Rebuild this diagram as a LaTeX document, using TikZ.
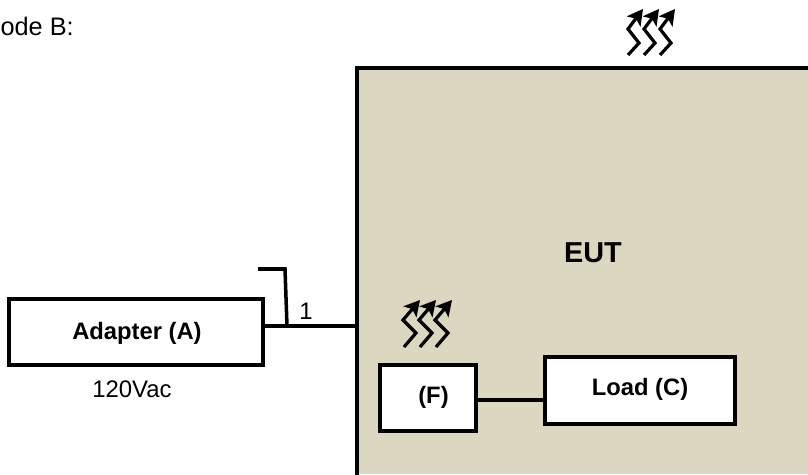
\documentclass[tikz,border=0pt]{standalone}
\usepackage{fontspec}
\setmainfont{Liberation Sans}
\usepackage{tikz}
\usetikzlibrary{arrows.meta}

\tikzset{
    whitebox/.style={rectangle, draw, fill=white, line width=2.5pt, inner sep=0pt},
    plaintext/.style={inner sep=0pt, font=\fontsize{17}{20}\selectfont},
    boldtext/.style={inner sep=0pt, font=\fontsize{16.9}{20}\selectfont\bfseries},
    wire/.style={line width=2.5pt},
    heat/.style={line width=2.3pt, miter limit=10, -{Stealth[length=11pt, width=12pt, inset=2.5pt]}}
}

\begin{document}
\begin{tikzpicture}[x=0.025cm, y=-0.025cm]
        \useasboundingbox (0, 0) rectangle (808, 474);

        % Nodes
        \node[rectangle, fill={rgb,255:red,220;green,215;blue,192}, minimum width=11.275cm, minimum height=10.15cm, inner sep=0pt, anchor=north west] (eut) at (357, 68) {};
        \node[whitebox, minimum width=254*0.025cm, minimum height=66*0.025cm] (adapter) at (136, 332) {};
        \node[whitebox, minimum width=190*0.025cm, minimum height=67*0.025cm] (load) at (640, 390.5) {};
        \node[whitebox, minimum width=96*0.025cm, minimum height=66*0.025cm] (fan) at (428, 398) {};
        \node[boldtext] (adaptertext) at (137, 333.5) {Adapter (A)};
        \node[boldtext] (loadtext) at (640, 389.5) {Load (C)};
        \node[boldtext] (fantext) at (433.5, 397) {(F)};
        \node[boldtext, font=\fontsize{20.5}{24}\selectfont\bfseries] (euttext) at (593, 253) {EUT};
        \node[plaintext, font=\fontsize{18}{22}\selectfont, anchor=east] (mode) at (74, 26) {ode B:};
        \node[plaintext] (volt) at (132, 389) {120Vac};
        \node[plaintext] (one) at (306, 311) {1};

        % Free ends
        \coordinate (w1) at (357, 326);
        \coordinate (w2) at (545, 400);
        \coordinate (b1) at (258, 269);
        \coordinate (b2) at (285, 269);
        \coordinate (b3) at (287, 326);

        % Lines
        \draw[wire] (eut.south west) -- (eut.north west) -- (eut.north east);
        \draw[wire] (adapter.east |- w1) -- (w1);
        \draw[wire] (fan.east |- w2) -- (w2);
        \draw[wire] (b1) -- (b2) -- (b3);

        % Heat
        \foreach \x in {0, 16, 32} {
            \draw[heat] (628+\x, 55) -- (639+\x, 43) -- (628+\x, 29) -- (643+\x, 9);
            \draw[heat] (404+\x, 347) -- (416+\x, 333) -- (403+\x, 320) -- (420+\x, 300);
        }
    \end{tikzpicture}
\end{document}
